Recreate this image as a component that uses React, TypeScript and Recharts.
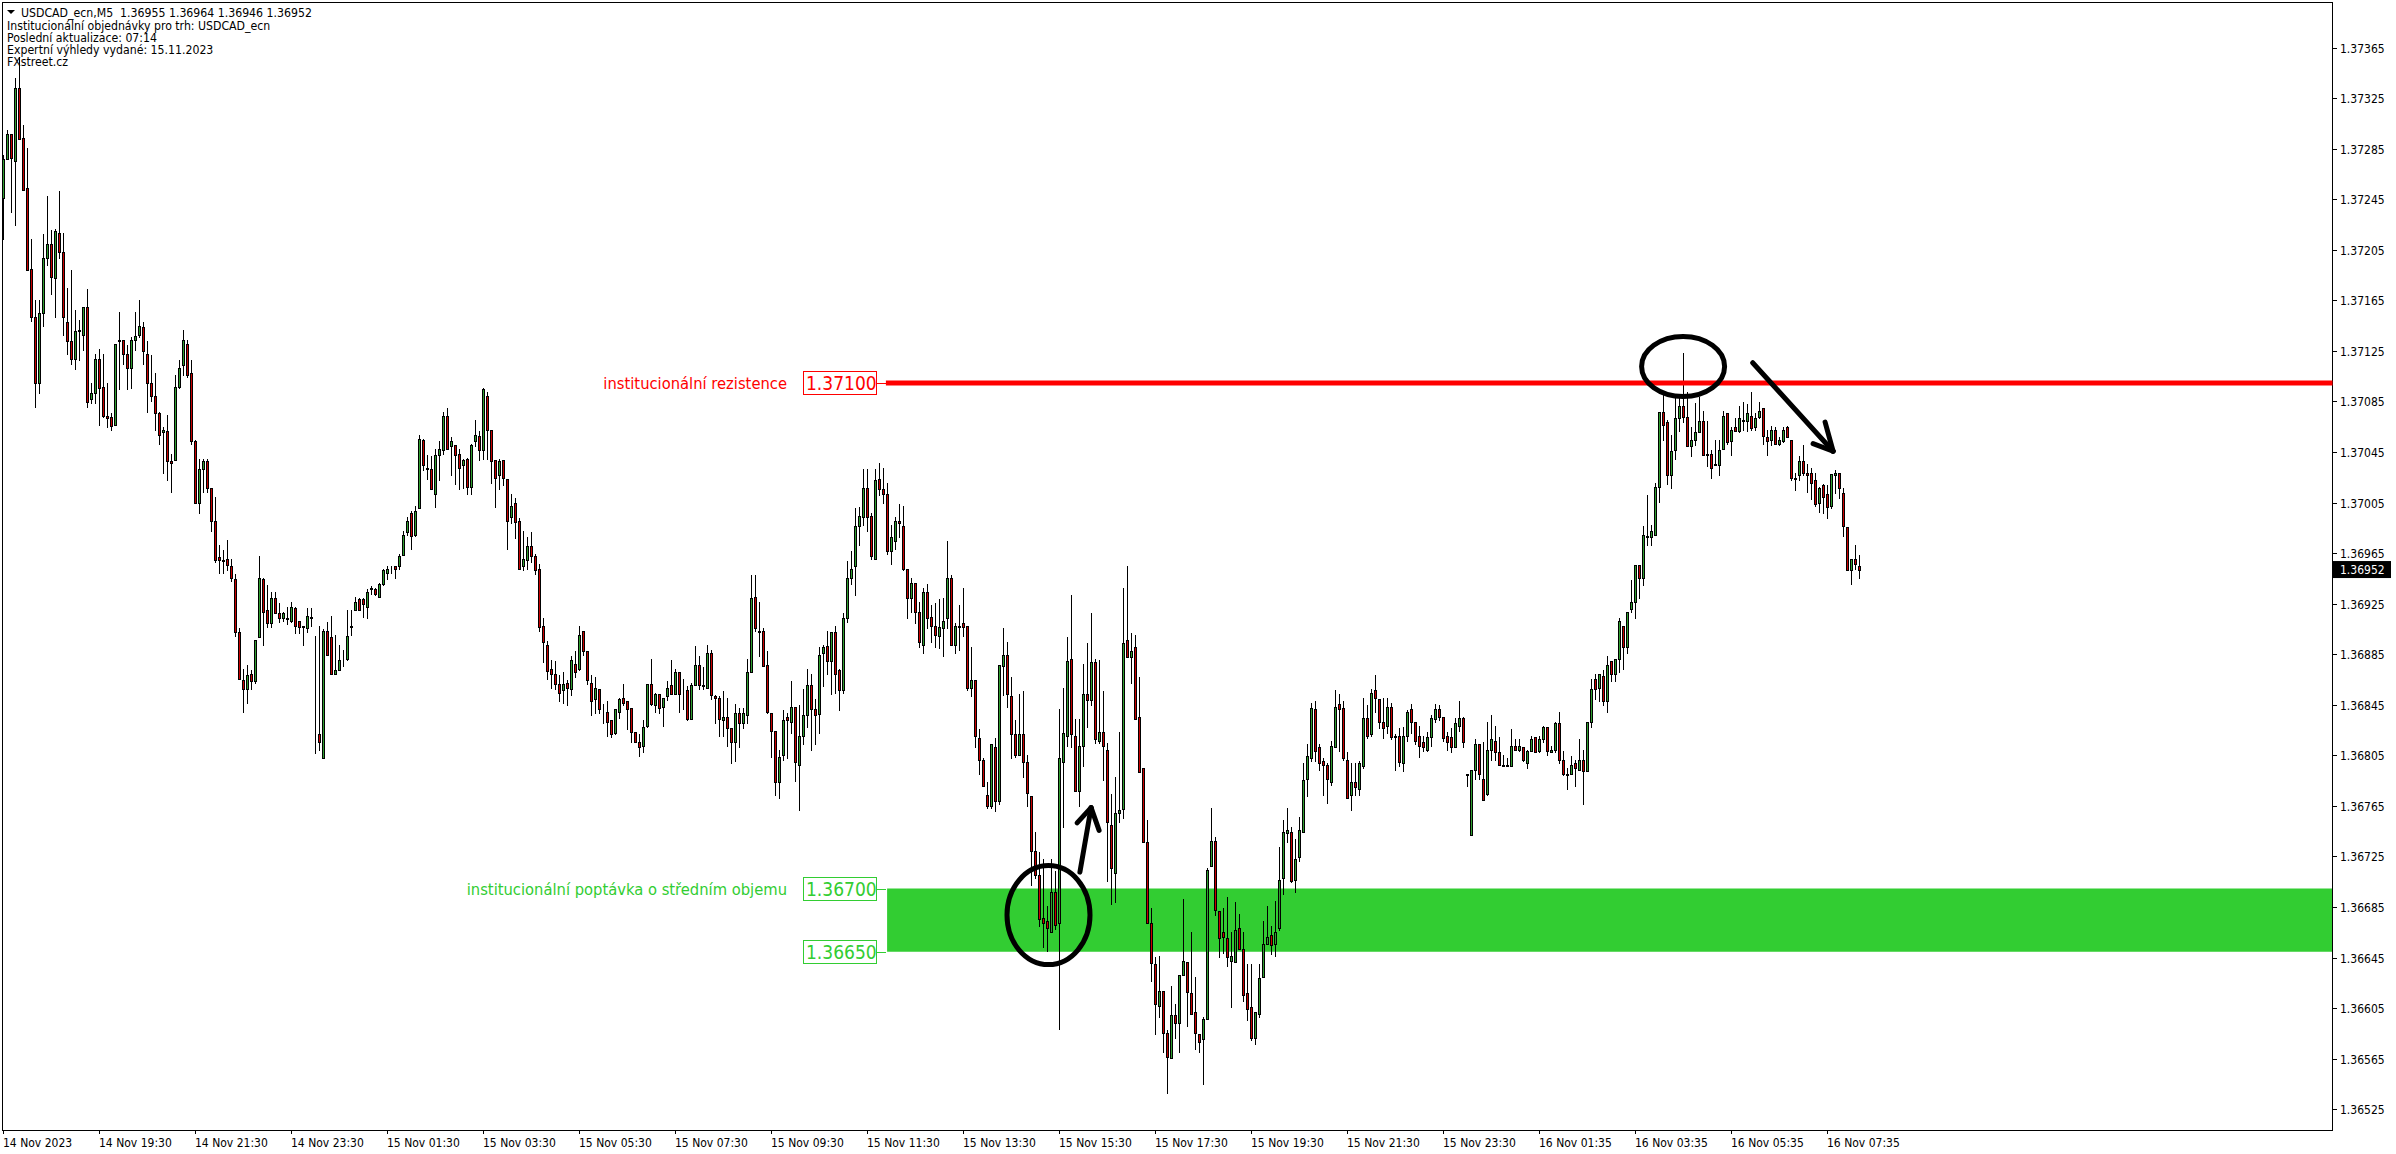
import { ComposedChart, Bar, XAxis, YAxis, ReferenceArea, ReferenceLine, ReferenceDot } from 'recharts';

// all prices are in points above 1.36000 (1 point = 0.00001)
const BASE = 1.36;

const opens = [
  1246,1277,1297,1276,1333,1294,1254,1190,1152,1100,
  1155,1199,1210,1183,1219,1204,1148,1133,1119,1142,
  1138,1160,1087,1092,1119,1097,1074,1073,1067,1134,
  1134,1123,1112,1134,1138,1144,1123,1100,1090,1076,
  1061,1062,1038,1039,1097,1114,1131,1108,1054,1005,
  1032,1038,1017,991,962,960,961,955,945,903,
  865,858,870,864,899,945,920,910,930,918,
  914,914,912,922,912,908,906,915,843,822,
  803,904,899,870,873,881,882,907,920,929,
  929,923,937,937,931,941,950,953,955,955,
  964,982,997,980,1001,1055,1033,1032,1012,1043,
  1047,1074,1050,1051,1044,1035,1040,1018,1054,1058,
  1047,1090,1063,1039,1027,1039,1024,994,1005,991,
  955,960,971,963,953,908,893,874,870,862,
  857,863,858,878,874,904,888,863,850,858,
  840,840,833,823,840,851,848,843,824,816,
  813,829,862,845,854,844,852,861,854,871,
  855,857,834,861,877,861,859,886,852,851,
  833,836,827,816,839,831,837,871,931,904,
  904,877,839,825,784,806,836,832,844,798,
  821,837,861,842,838,886,892,880,903,873,
  857,914,946,955,987,994,1017,995,961,1024,
  1016,1012,967,975,991,987,953,930,942,919,
  893,935,915,908,900,906,914,946,893,908,
  910,908,859,865,819,802,774,765,812,769,
  876,885,852,822,806,822,800,773,730,711,
  677,674,666,697,673,800,821,882,821,777,
  813,854,849,879,817,824,810,750,712,760,
  763,897,883,891,836,795,737,673,640,607,
  619,586,566,600,594,632,642,617,602,585,
  581,597,718,738,682,666,661,643,642,669,
  652,617,606,582,601,630,656,663,656,669,
  708,744,745,707,725,745,787,803,842,812,
  801,798,784,812,846,843,802,774,784,779,
  797,835,822,857,850,832,829,844,821,821,
  799,821,842,832,821,816,810,820,834,842,
  836,821,820,812,829,835,791,742,794,814,
  787,775,810,817,808,798,798,797,813,810,
  812,799,809,820,809,818,828,808,810,831,
  802,791,791,799,794,802,793,832,866,859,
  868,848,880,870,882,908,891,921,927,956,
  946,979,978,980,1018,1077,1069,1027,1047,1072,
  1082,1073,1050,1055,1061,1070,1044,1044,1036,1035,
  1048,1076,1054,1065,1062,1071,1070,1074,1065,1073,
  1080,1057,1055,1063,1052,1054,1065,1055,1025,1027,
  1038,1029,1029,1023,1005,1019,1012,1003,1027,1029,
  1013,986,952,961,955,
];

const highs = [
  1280,1300,1297,1341,1358,1304,1286,1214,1166,1166,
  1218,1248,1221,1222,1252,1219,1175,1189,1158,1150,
  1160,1174,1100,1123,1127,1123,1100,1076,1131,1156,
  1134,1130,1136,1156,1166,1148,1133,1122,1108,1077,
  1065,1075,1044,1106,1118,1142,1134,1118,1055,1040,
  1040,1040,1017,1010,972,968,976,961,949,906,
  874,877,873,897,963,946,940,935,935,926,
  919,923,927,923,912,908,922,922,900,908,
  905,911,916,901,893,889,920,920,931,930,
  930,937,939,938,942,953,955,955,955,965,
  983,994,999,1003,1059,1056,1043,1042,1048,1054,
  1077,1080,1057,1051,1048,1040,1041,1052,1071,1062,
  1096,1093,1063,1039,1040,1039,1024,1012,1009,993,
  983,978,982,965,957,914,896,881,880,869,
  871,865,884,888,908,904,888,869,867,858,
  846,848,833,842,851,862,848,843,824,822,
  833,862,882,855,854,851,864,881,874,871,
  866,860,863,892,884,875,893,889,853,852,
  856,851,827,846,843,843,882,948,948,927,
  906,888,839,825,810,841,839,864,844,845,
  858,874,870,850,891,893,904,903,908,874,
  918,959,967,1001,1002,1032,1032,997,1032,1037,
  1033,1021,988,994,1004,1003,953,946,942,927,
  938,941,924,926,929,930,975,948,910,924,
  938,908,891,865,826,803,784,814,819,877,
  906,895,867,833,854,856,806,773,745,729,
  723,686,723,714,842,859,899,932,834,834,
  878,894,918,882,881,856,815,775,788,824,
  938,955,902,901,867,795,754,685,646,647,
  619,588,623,609,632,692,642,666,630,585,
  598,716,764,741,682,685,693,666,689,680,
  666,640,640,602,640,674,686,670,690,733,
  754,764,749,739,757,799,814,847,848,814,
  803,799,817,857,854,848,808,799,799,801,
  851,845,858,869,850,851,851,847,822,827,
  828,841,846,832,829,821,824,837,846,845,
  836,824,827,835,848,836,791,794,818,814,
  816,832,837,829,820,806,803,826,818,818,
  812,810,821,820,821,829,828,813,832,840,
  809,795,805,802,818,810,832,866,870,870,
  873,884,880,882,914,908,919,944,956,956,
  987,1011,988,1021,1077,1091,1071,1059,1090,1088,
  1124,1093,1065,1084,1089,1078,1070,1047,1055,1055,
  1078,1076,1065,1072,1082,1085,1083,1093,1076,1085,
  1080,1063,1066,1065,1057,1065,1066,1055,1029,1042,
  1051,1036,1033,1029,1018,1020,1019,1028,1031,1029,
  1017,986,961,972,964,
];

const lows = [
  1214,1277,1235,1225,1293,1253,1189,1149,1081,1092,
  1145,1193,1170,1152,1199,1138,1123,1115,1111,1118,
  1126,1081,1084,1084,1067,1073,1065,1063,1067,1095,
  1115,1095,1096,1126,1136,1115,1077,1086,1063,1052,
  1029,1023,1014,1039,1096,1106,1105,1052,1005,997,
  1014,1014,983,958,950,950,952,943,900,866,
  840,847,858,863,899,893,907,907,918,911,
  912,909,911,902,902,893,903,908,807,810,
  803,885,870,870,873,876,881,901,920,920,
  915,914,933,932,931,940,945,950,946,953,
  964,980,969,979,1001,1031,1024,1016,1002,1023,
  1044,1048,1027,1020,1016,1017,1012,1012,1050,1039,
  1040,1040,1021,1002,1016,1019,969,989,977,953,
  952,953,958,949,904,879,866,859,858,848,
  847,845,853,867,873,885,862,837,839,839,
  831,821,820,822,835,845,826,816,816,805,
  808,828,845,840,839,829,849,854,854,840,
  842,833,834,861,858,858,859,850,831,821,
  821,813,799,801,812,827,831,871,904,884,
  876,839,804,774,772,802,803,823,785,762,
  814,828,810,814,823,860,870,854,855,841,
  855,911,941,932,972,988,983,961,961,1011,
  1005,965,957,969,978,952,914,919,910,891,
  886,906,895,891,890,884,906,893,886,889,
  900,857,852,812,791,781,764,764,761,767,
  853,844,803,804,806,788,765,703,708,670,
  654,651,666,668,589,749,813,812,777,765,
  797,828,845,815,815,786,706,688,689,753,
  756,883,863,834,792,737,673,627,585,598,
  571,538,566,582,571,632,591,601,573,571,
  545,597,718,679,646,649,639,606,642,652,
  611,596,580,577,598,630,656,648,647,667,
  696,737,705,697,722,745,773,801,801,794,
  774,768,782,812,809,802,772,762,774,774,
  795,819,821,840,827,819,823,818,794,797,
  793,817,823,814,804,809,809,813,832,833,
  817,810,808,812,825,812,781,742,787,787,
  770,774,802,802,798,797,797,797,810,809,
  801,795,809,808,808,816,806,808,808,799,
  790,779,791,781,794,767,793,828,850,848,
  845,840,864,864,871,874,886,919,914,930,
  940,972,972,980,1006,1055,1020,1017,1040,1062,
  1069,1050,1042,1051,1061,1043,1034,1025,1035,1027,
  1048,1052,1043,1062,1061,1063,1062,1063,1063,1072,
  1052,1043,1051,1052,1051,1053,1057,1023,1015,1023,
  1027,1014,1008,1003,998,997,993,1001,1013,1009,
  979,952,941,953,946,
];

const closes = [
  1277,1297,1278,1333,1293,1253,1189,1152,1100,1155,
  1199,1210,1184,1220,1204,1152,1133,1119,1141,1141,
  1160,1085,1092,1119,1096,1074,1072,1066,1131,1133,
  1123,1112,1134,1137,1145,1125,1100,1090,1076,1059,
  1063,1038,1037,1097,1112,1134,1106,1054,1005,1032,
  1038,1017,991,960,960,959,956,946,903,866,
  858,869,864,897,946,919,910,930,918,914,
  918,913,923,908,907,907,916,914,843,816,
  904,885,870,873,881,881,900,908,927,920,
  925,935,938,933,941,952,953,953,953,963,
  980,991,979,999,1056,1035,1032,1016,1043,1048,
  1074,1048,1054,1043,1033,1039,1018,1051,1059,1047,
  1095,1063,1038,1025,1038,1025,991,1003,990,953,
  961,971,963,952,907,895,872,870,862,855,
  862,859,881,871,901,888,865,848,859,842,
  840,832,822,842,850,847,842,824,816,812,
  828,862,846,854,843,851,859,854,871,854,
  855,834,861,877,861,860,886,853,851,834,
  836,827,816,839,831,839,871,930,906,903,
  876,840,825,784,804,833,833,844,800,821,
  837,861,842,837,885,891,880,903,870,857,
  914,946,953,987,995,1017,994,963,1023,1016,
  1012,967,978,991,989,953,930,942,919,895,
  935,914,908,901,907,912,946,893,908,907,
  907,859,865,821,802,781,765,814,769,877,
  885,854,822,806,822,800,776,730,711,676,
  673,669,697,671,803,823,880,822,777,813,
  854,849,879,818,824,813,753,716,760,762,
  894,883,888,834,792,737,673,641,609,619,
  586,567,600,594,632,643,618,601,586,579,
  597,715,738,683,661,662,646,647,667,652,
  616,605,582,602,629,656,662,655,666,707,
  745,746,706,723,746,786,805,843,809,799,
  798,787,813,844,842,803,772,784,780,799,
  835,821,855,851,832,827,844,820,820,800,
  821,840,832,817,813,812,820,835,842,836,
  819,816,812,831,835,816,790,794,814,791,
  770,810,818,808,798,797,797,813,810,813,
  802,809,818,808,818,828,809,810,831,802,
  791,790,798,795,802,793,832,858,858,870,
  848,877,870,882,912,891,919,927,956,946,
  980,978,983,1018,1077,1067,1027,1046,1072,1082,
  1073,1050,1055,1061,1070,1043,1043,1033,1035,1047,
  1074,1053,1063,1062,1072,1070,1076,1064,1072,1078,
  1058,1054,1063,1052,1055,1063,1057,1025,1024,1038,
  1029,1027,1021,1004,1017,1010,1002,1028,1029,1017,
  987,952,961,957,952,
];

const timeLabels = [
  '14 Nov 2023', '14 Nov 19:30', '14 Nov 21:30', '14 Nov 23:30', '15 Nov 01:30',
  '15 Nov 03:30', '15 Nov 05:30', '15 Nov 07:30', '15 Nov 09:30', '15 Nov 11:30',
  '15 Nov 13:30', '15 Nov 15:30', '15 Nov 17:30', '15 Nov 19:30', '15 Nov 21:30',
  '15 Nov 23:30', '16 Nov 01:35', '16 Nov 03:35', '16 Nov 05:35', '16 Nov 07:35',
];
const timeTicks = timeLabels.map((_, i) => i * 24);

const priceTicks = [
  1365, 1325, 1285, 1245, 1205, 1165, 1125, 1085, 1045, 1005, 965,
  925, 885, 845, 805, 765, 725, 685, 645, 605, 565, 525,
];

const headerLines = [
  'Institucionální objednávky pro trh: USDCAD_ecn',
  'Poslední aktualizace: 07:14',
  'Expertní výhledy vydané: 15.11.2023',
  'FXstreet.cz',
];

const RESISTANCE = 1100;
const ZONE_TOP = 700;
const ZONE_BOTTOM = 650;
const LAST_PRICE = 952;

const X_MIN = -0.25;
const X_MAX = 582.25;
const Y_MIN = 508.6;
const Y_MAX = 1401;
const LEVEL_START = 220.6;

const RED = '#ff0000';
const LIME = '#32cd32';
const BULL = '#2f9e2f';
const BEAR = '#c80000';
const FONT = '"DejaVu Sans Condensed", "DejaVu Sans", sans-serif';

const rows = opens.map((open, i) => ({
  idx: i,
  open,
  close: closes[i],
  high: highs[i],
  low: lows[i],
  range: [lows[i], highs[i]],
}));

const fmtPrice = (v: number) => (BASE + v / 100000).toFixed(5);

const Candle = (props: any) => {
  const { x, y, width, height, payload } = props;
  const { open, close, high, low } = payload;
  const cx = Math.round(x + width / 2 - 0.5) + 0.5;
  const perPoint = high > low ? height / (high - low) : 0;
  const top = Math.round(y + (high - Math.max(open, close)) * perPoint) + 0.5;
  const bottom = Math.round(y + (high - Math.min(open, close)) * perPoint) + 0.5;
  const wickTop = Math.round(y);
  const wickBottom = Math.round(y + height) + 1;
  return (
    <g shapeRendering="crispEdges">
      <line x1={cx} x2={cx} y1={wickTop} y2={wickBottom} stroke="#000" strokeWidth={1} />
      <rect
        x={cx - 1}
        y={top}
        width={2}
        height={bottom - top}
        fill={close >= open ? BULL : BEAR}
        stroke="#000"
        strokeWidth={1}
      />
    </g>
  );
};

const TimeTick = ({ x, y, payload }: any) => {
  const px = Math.round(x - 0.5) + 0.5;
  return (
    <g>
      <line x1={px} x2={px} y1={1131} y2={1134} stroke="#000" shapeRendering="crispEdges" />
      <text x={px - 0.5} y={1147} fontSize={12} fontFamily={FONT} fill="#000">
        {timeLabels[payload.value / 24]}
      </text>
    </g>
  );
};

const PriceTick = ({ x, y, payload }: any) => {
  const py = Math.round(y - 0.5) + 0.5;
  return (
    <g>
      <line x1={2333} x2={2337} y1={py} y2={py} stroke="#000" shapeRendering="crispEdges" />
      <text x={2340} y={py + 4.5} fontSize={12} fontFamily={FONT} fill="#000">
        {fmtPrice(payload.value)}
      </text>
    </g>
  );
};

// boxed price on the left of the level, with the optional name before it
const LevelTag = ({ cx, cy, color, name, value }: any) => {
  const mid = Math.round(cy);
  return (
    <g shapeRendering="geometricPrecision">
      <line x1={877} x2={886} y1={mid + 0.5} y2={mid + 0.5} stroke={color} shapeRendering="crispEdges" />
      <rect x={803.5} y={mid - 11.5} width={73} height={23} fill="#fff" stroke={color} shapeRendering="crispEdges" />
      <text x={806} y={mid + 7} fontSize={19} fontFamily={FONT} fill={color}>
        {fmtPrice(value)}
      </text>
      {name ? (
        <text x={787} y={mid + 6} fontSize={16.4} fontFamily={FONT} fill={color} textAnchor="end">
          {name}
        </text>
      ) : null}
    </g>
  );
};

const LastPriceTag = ({ cy }: any) => (
  <g>
    <rect x={2333} y={cy - 9} width={58} height={17} fill="#000" />
    <text x={2340} y={cy + 4} fontSize={12} fontFamily={FONT} fill="#fff">
      {fmtPrice(LAST_PRICE)}
    </text>
  </g>
);

const Ring = ({ cx, cy, rx, ry }: any) => (
  <ellipse cx={cx} cy={cy} rx={rx} ry={ry} fill="none" stroke="#000" strokeWidth={5} />
);

const Stroke = ({ from, to }: { from: number[]; to: number[] }) => (
  <ReferenceLine
    segment={[{ x: from[0], y: from[1] }, { x: to[0], y: to[1] }]}
    stroke="#000"
    strokeWidth={5}
    strokeLinecap="round"
  />
);

export default function App() {
  return (
    <div style={{ position: 'absolute', left: 0, top: 0, width: 2396, height: 1154, background: '#fff' }}>
      <ComposedChart
        width={2396}
        height={1154}
        data={rows}
        margin={{ top: 2.5, right: 0, bottom: 0, left: 2.5 }}
      >
        <XAxis
          dataKey="idx"
          type="number"
          domain={[X_MIN, X_MAX]}
          ticks={timeTicks}
          interval={0}
          height={23.5}
          axisLine={false}
          tickLine={false}
          tick={<TimeTick />}
          allowDataOverflow
        />
        <YAxis
          orientation="right"
          type="number"
          domain={[Y_MIN, Y_MAX]}
          ticks={priceTicks}
          interval={0}
          width={63.5}
          axisLine={false}
          tickLine={false}
          tick={<PriceTick />}
          allowDataOverflow
        />
        <ReferenceArea x1={LEVEL_START + 0.3} x2={X_MAX} y1={ZONE_BOTTOM} y2={ZONE_TOP} fill={LIME} fillOpacity={1} stroke="none" />
        <ReferenceLine
          segment={[{ x: LEVEL_START, y: RESISTANCE }, { x: X_MAX, y: RESISTANCE }]}
          stroke={RED}
          strokeWidth={5}
        />
        <Bar dataKey="range" barSize={3} shape={<Candle />} isAnimationActive={false} />
        <ReferenceArea x1={X_MIN} x2={X_MAX} y1={Y_MIN} y2={Y_MAX} fill="none" stroke="#000" strokeWidth={1} shapeRendering="crispEdges" />

        <ReferenceDot x={LEVEL_START} y={RESISTANCE} shape={<LevelTag color={RED} name="institucionální rezistence" value={RESISTANCE} />} />
        <ReferenceDot x={LEVEL_START} y={ZONE_TOP} shape={<LevelTag color={LIME} name="institucionální poptávka o středním objemu" value={ZONE_TOP} />} />
        <ReferenceDot x={LEVEL_START} y={ZONE_BOTTOM} shape={<LevelTag color={LIME} value={ZONE_BOTTOM} />} />
        <ReferenceDot x={X_MAX} y={LAST_PRICE} shape={<LastPriceTag />} />

        <ReferenceDot x={261.25} y={679} shape={<Ring rx={41.5} ry={49.5} />} />
        <ReferenceDot x={419.9} y={1113} shape={<Ring rx={41.5} ry={30} />} />
        {Stroke({ from: [269.1, 713], to: [271.9, 764] })}
        {Stroke({ from: [268.4, 752], to: [271.9, 764] })}
        {Stroke({ from: [273.9, 746], to: [271.9, 764] })}
        {Stroke({ from: [437.3, 1116], to: [457.4, 1046] })}
        {Stroke({ from: [455.4, 1069], to: [457.4, 1046] })}
        {Stroke({ from: [452.4, 1052], to: [457.4, 1046] })}

        <polygon points="7,10 15,10 11,14" fill="#000" />
        <text x={21} y={17} fontSize={12.2} fontFamily={FONT} fill="#000" style={{ whiteSpace: 'pre' }}>
          {'USDCAD_ecn,M5  1.36955 1.36964 1.36946 1.36952'}
        </text>
        {headerLines.map((line, i) => (
          <text key={line} x={7} y={30 + i * 12} fontSize={12.2} fontFamily={FONT} fill="#000">
            {line}
          </text>
        ))}
      </ComposedChart>
    </div>
  );
}
